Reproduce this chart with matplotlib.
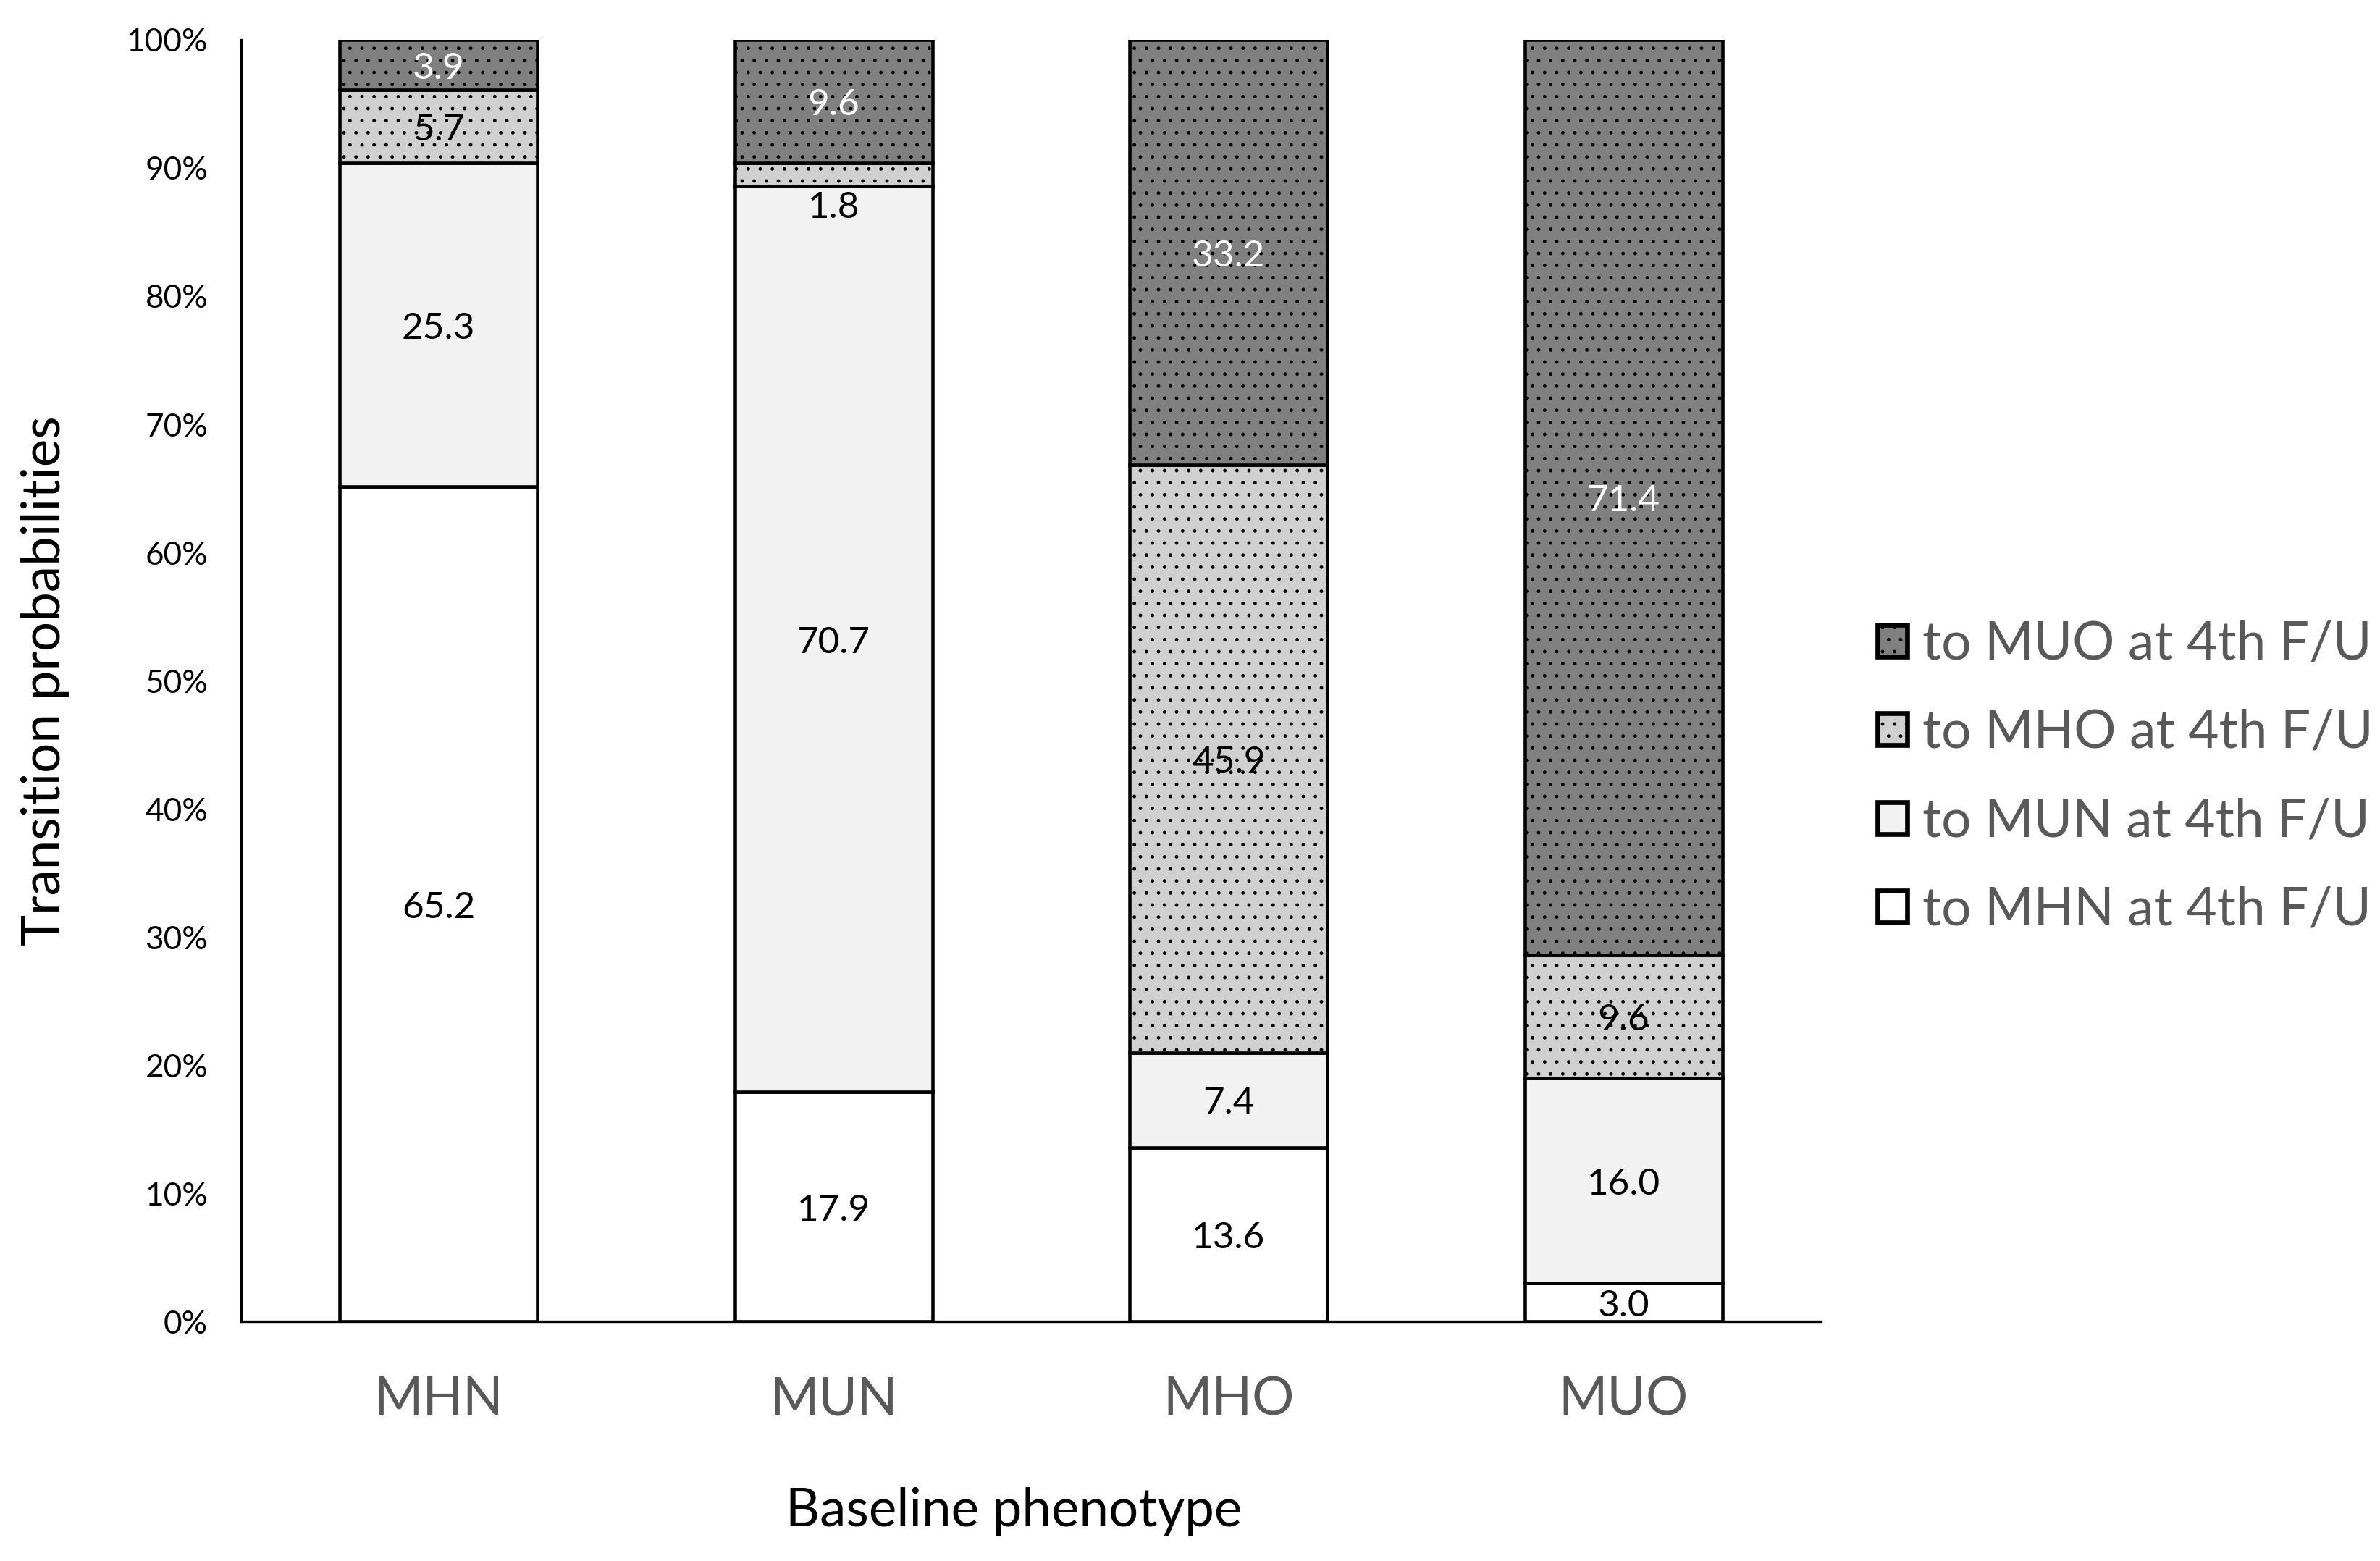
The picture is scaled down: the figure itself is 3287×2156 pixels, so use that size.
import matplotlib
matplotlib.use("Agg")
import matplotlib.pyplot as plt
import numpy as np
from matplotlib.ticker import PercentFormatter

# ---- data ----
categories = ["MHN", "MUN", "MHO", "MUO"]
series_names = ["to MHN at 4th F/U", "to MUN at 4th F/U", "to MHO at 4th F/U", "to MUO at 4th F/U"]
to_MHN = [65.2, 17.9, 13.6, 3.0]
to_MUN = [25.3, 70.7, 7.4, 16.0]
to_MHO = [5.7, 1.8, 45.9, 9.6]
to_MUO = [3.9, 9.6, 33.2, 71.4]

# ---- style ----
fills = ["#ffffff", "#f2f2f2", "#d0d0d0", "#808080"]
hatches = [None, None, "...", "..."]
label_colors = ["black", "black", "black", "white"]
FONT = "Lato"
plt.rcParams["font.family"] = [FONT, "DejaVu Sans"]
plt.rcParams["hatch.linewidth"] = 0.35

fig = plt.figure(figsize=(3287 / 300, 2156 / 300), dpi=300)
ax = fig.add_axes([0.1013, 0.1535, 0.7651 - 0.1013, 0.9745 - 0.1535])

series = [to_MHN, to_MUN, to_MHO, to_MUO]
data = np.array(series, dtype=float)
totals = data.sum(axis=0)
frac = data / totals  # 100% stacked
x = np.arange(len(categories))
bottom = np.zeros(len(categories))
handles = []
for i, (name, vals) in enumerate(zip(series_names, frac)):
    bars = ax.bar(x, vals, width=0.5, bottom=bottom, color=fills[i],
                  edgecolor="black", linewidth=1.1, hatch=hatches[i],
                  label=name, zorder=2)
    handles.append(bars)
    for j, v in enumerate(vals):
        raw = series[i][j]
        if raw < 2.5:
            ax.text(x[j], bottom[j] - 0.004, f"{raw:.1f}", ha="center", va="top",
                    fontsize=12.3, color=label_colors[i], zorder=3)
        else:
            ax.text(x[j], bottom[j] + v / 2 - 0.003, f"{raw:.1f}", ha="center", va="center",
                    fontsize=12.3, color=label_colors[i], zorder=3)
    bottom += vals

ax.set_xlim(-0.5, 3.5)
ax.set_ylim(0, 1)
ax.set_yticks(np.linspace(0, 1, 11))
ax.yaxis.set_major_formatter(PercentFormatter(1.0, decimals=0))
ax.tick_params(axis="y", length=0, pad=11, labelsize=10.6, labelcolor="black")
ax.set_xticks(x)
ax.set_xticklabels(categories)
ax.tick_params(axis="x", length=0, pad=18, labelsize=17.5, labelcolor="#595959")
for s in ["top", "right"]:
    ax.spines[s].set_visible(False)
for s in ["left", "bottom"]:
    ax.spines[s].set_linewidth(0.8)
    ax.spines[s].set_color("black")

ax.set_ylabel("Transition probabilities", fontsize=17.5, color="black", va="center")
ax.yaxis.set_label_coords(-0.124, 0.5)
ax.set_xlabel("Baseline phenotype", fontsize=17.5, color="black", va="center")
ax.xaxis.set_label_coords(0.489, -0.148)

leg = fig.legend(handles=handles[::-1], labels=series_names[::-1],
                 loc="center left", bbox_to_anchor=(0.789, 0.502),
                 frameon=False, fontsize=17.5, handlelength=0.55, handleheight=0.55,
                 handletextpad=0.3, labelspacing=0.76, borderpad=0, borderaxespad=0)
for t in leg.get_texts():
    t.set_color("#595959")
for p in leg.get_patches():
    p.set_linewidth(1.6)

fig.savefig("out.png", dpi=300)
